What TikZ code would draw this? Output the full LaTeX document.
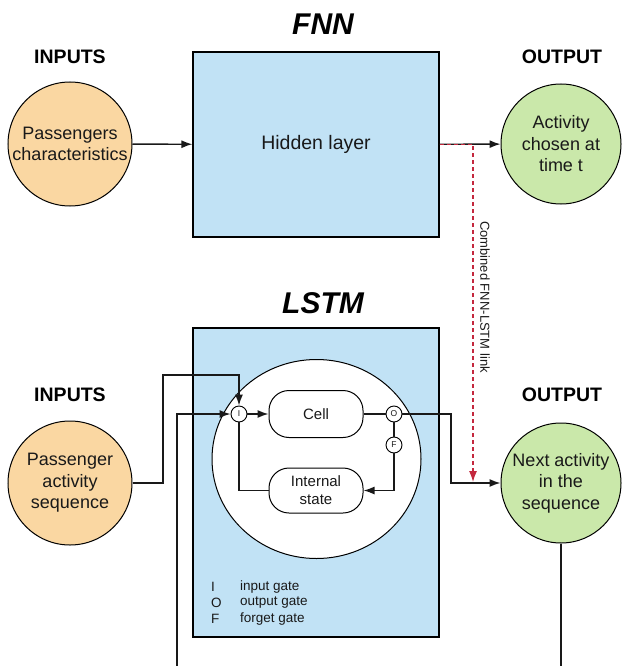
\documentclass[tikz,border=0pt]{standalone}
\usepackage{fontspec}
\setmainfont{Liberation Sans}
\usepackage{tikz}
\usetikzlibrary{arrows.meta}
\usetikzlibrary{shapes}
\usetikzlibrary{positioning}
\usetikzlibrary{backgrounds}

\definecolor{boxblue}{RGB}{193,226,245}
\definecolor{inorange}{RGB}{250,215,162}
\definecolor{outgreen}{RGB}{202,232,170}
\definecolor{linkred}{RGB}{196,40,62}

\begin{document}
\begin{tikzpicture}[x=1pt, y=-1pt]
            \tikzset{every node/.style={text=black!90, align=center},
                    >={Latex[length=11pt,width=8pt]},
                    every edge/.style={draw=black!90, line width=1.4pt},
                    conn/.style={draw=black!90, line width=1.4pt},
                    title/.style={font=\fontsize{30}{30}\selectfont\bfseries\itshape, text=black},
                    head/.style={font=\fontsize{19.5}{20}\selectfont\bfseries, text=black},
                    innode/.style={circle, draw, line width=1pt, fill=inorange, minimum size=124pt, inner sep=0pt, font=\fontsize{18}{21.5}\selectfont},
                    outnode/.style={circle, draw, line width=1pt, fill=outgreen, minimum size=120pt, inner sep=0pt, font=\fontsize{18}{21.5}\selectfont},
                    layerbox/.style={rectangle, draw, line width=1.2pt, fill=boxblue, minimum width=246pt},
                    unitbox/.style={rectangle, rounded corners=20pt, draw, line width=1pt, fill=white, minimum width=94pt, font=\fontsize{15}{18}\selectfont},
                    gatenode/.style={circle, draw, line width=0.9pt, fill=white, minimum size=16pt, inner sep=0pt, font=\fontsize{8.5}{8.5}\selectfont},
                    legend/.style={anchor=west, inner xsep=0pt, font=\fontsize{13.5}{16}\selectfont}}
            \useasboundingbox (0,0) rectangle (622,666);
            % FNN part
            \node[title] (fnn) at (323,24) {FNN};
            \node[head] (in1) at (70,57) {INPUTS};
            \node[head] (out1) at (562,57) {OUTPUT};
            \node[innode] (pc) at (70,144) {Passengers\\characteristics};
            \node[layerbox, minimum height=185pt, font=\fontsize{19.5}{20}\selectfont] (hidden) at (316,144.5) {Hidden layer};
            \node[outnode] (act) at (561,144) {Activity\\chosen at\\time t};
            \path [->] (pc) edge node {} (hidden);
            \path [->] (hidden) edge node {} (act);
            % LSTM part
            \node[title] (lstm) at (323,303) {LSTM};
            \node[head] (in2) at (70,395) {INPUTS};
            \node[head] (out2) at (562,395) {OUTPUT};
            \node[innode] (seq) at (70,483) {Passenger\\activity\\sequence};
            \node[layerbox, minimum height=309pt] (lstmbox) at (316,482.5) {};
            \node[ellipse, draw, line width=1pt, fill=white, minimum width=209pt, minimum height=199pt] (unit) at (316.5,459) {};
            \node[unitbox, minimum height=47pt] (cell) at (316,414) {Cell};
            \node[unitbox, minimum height=45pt] (state) at (316,490.5) {Internal\\state};
            \node[gatenode] (ig) at (239,414) {I};
            \node[gatenode] (og) at (394,414) {O};
            \node[gatenode] (fg) at (394,445) {F};
            \node[outnode] (next) at (561,483) {Next activity\\in the\\sequence};
            % legend
            \node[legend] (li) at (211,587) {I};
            \node[legend] (lo) at (211,603) {O};
            \node[legend] (lf) at (211,619) {F};
            \node[legend] (lit) at (240,587) {input gate};
            \node[legend] (lot) at (240,603) {output gate};
            \node[legend] (lft) at (240,619) {forget gate};
            % connectors
            \coordinate (seqbend) at (163,375);
            \coordinate (loopin) at (177,666);
            \coordinate (obend) at (451,450);
            \coordinate (nextdown) at (561,666);
            \path [->] (ig) edge node {} (cell);
            \path (cell) edge node {} (og);
            \path (og) edge node {} (fg);
            \draw[conn, ->] (fg) |- (state);
            \draw[conn] (state) -| (ig);
            \draw[conn, ->] (seq) -| (seqbend) -| (ig);
            \draw[conn, ->] (loopin) |- (ig);
            \draw[conn, ->] (og) -| (obend) |- (next);
            \path (next) edge node {} (nextdown);
            % combined link
            \coordinate (linkbend) at (473,144.5);
            \coordinate (linkend) at (473,482);
            \draw[linkred, line width=1.2pt, dash pattern=on 4pt off 3pt, ->] (hidden.east) -- (linkbend) -- (linkend);
            \node[rotate=-90, font=\fontsize{13}{13}\selectfont] (linklbl) at (485,297) {Combined FNN-LSTM link};
        \end{tikzpicture}
\end{document}
